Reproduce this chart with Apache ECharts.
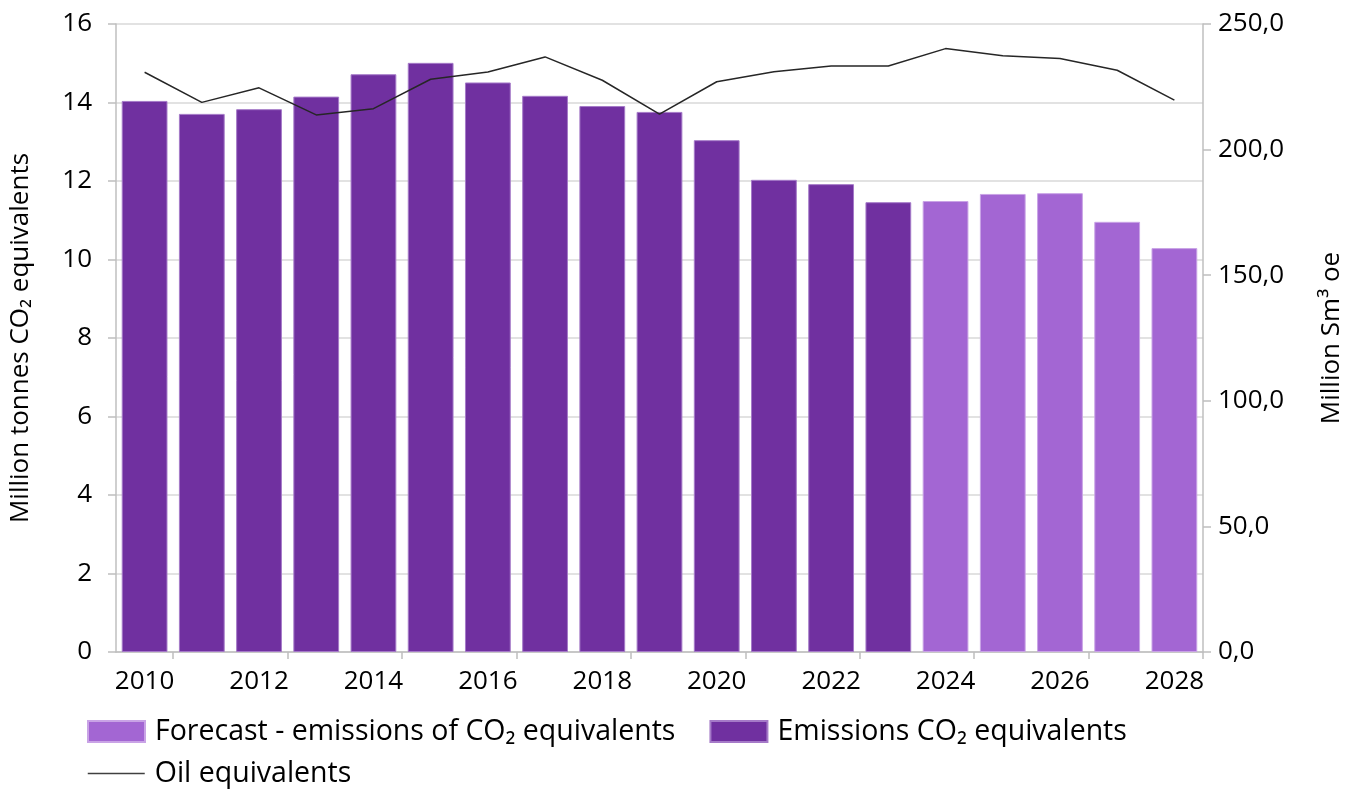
<!DOCTYPE html>
<html>
<head>
<meta charset="utf-8">
<script src="https://cdn.jsdelivr.net/npm/echarts@6/dist/echarts.min.js"></script>
<style>
  html, body { margin: 0; padding: 0; background: #ffffff; }
  #chart { width: 1358px; height: 789px; }
</style>
</head>
<body>
<div id="chart"></div>
<script>
// Years on the category axis
const years = ['2010','2011','2012','2013','2014','2015','2016','2017','2018','2019',
               '2020','2021','2022','2023','2024','2025','2026','2027','2028'];

// Historical emissions, million tonnes CO2 equivalents
const emissions = [14.04, 13.71, 13.83, 14.15, 14.72, 15.01, 14.51, 14.17, 13.91, 13.76,
                   13.04, 12.03, 11.92, 11.46, '-', '-', '-', '-', '-'];

// Forecast emissions, million tonnes CO2 equivalents
const forecast = ['-', '-', '-', '-', '-', '-', '-', '-', '-', '-',
                  '-', '-', '-', '-', 11.49, 11.67, 11.69, 10.96, 10.29];

// Production, million Sm3 oil equivalents (right axis)
const oilEquivalents = [230.8, 218.8, 224.6, 213.8, 216.3, 228.0, 230.9, 236.9, 227.6, 214.1,
                        227.0, 231.0, 233.3, 233.3, 240.2, 237.4, 236.3, 231.6, 219.7];

const NAME_FORECAST = 'Forecast - emissions of CO\u2082 equivalents';
const NAME_EMISSIONS = 'Emissions CO\u2082 equivalents';
const NAME_OIL = 'Oil equivalents';

const FONT = "'Open Sans', 'Noto Sans', sans-serif";
const TXT = '#000000';
const AXIS_FS = 26;
const LEGEND_FS = 28.5;

const chart = echarts.init(document.getElementById('chart'), null, { renderer: 'canvas' });

chart.setOption({
  animation: false,
  backgroundColor: '#ffffff',
  textStyle: { fontFamily: FONT },
  grid: { left: 116, right: 155, top: 24, bottom: 137, containLabel: false },
  legend: [
    {
      data: [
        { name: NAME_FORECAST, icon: 'rect' },
        { name: NAME_EMISSIONS, icon: 'rect' }
      ],
      left: 87, top: 717, padding: 0,
      itemWidth: 57, itemHeight: 21, itemGap: 34,
      textStyle: { fontSize: LEGEND_FS, color: TXT, fontFamily: FONT, padding: [0, 0, 0, 5] }
    },
    {
      data: [
        { name: NAME_OIL, itemStyle: { color: 'rgba(0,0,0,0)', borderWidth: 0, opacity: 0 } }
      ],
      left: 87, top: 759, padding: 0,
      itemWidth: 57, itemHeight: 21,
      lineStyle: { color: '#404040', width: 1.5 },
      textStyle: { fontSize: LEGEND_FS, color: TXT, fontFamily: FONT, padding: [0, 0, 0, 5] }
    }
  ],
  xAxis: {
    type: 'category',
    data: years,
    boundaryGap: true,
    axisLine: { lineStyle: { color: '#bfbfbf', width: 1.5 } },
    axisTick: {
      show: true, length: 7,
      interval: (i) => i % 2 === 1,
      lineStyle: { color: '#bfbfbf', width: 1.5 }
    },
    axisLabel: {
      interval: (i) => i % 2 === 0,
      fontSize: AXIS_FS, color: TXT, margin: 17, fontFamily: FONT
    }
  },
  yAxis: [
    {
      type: 'value', min: 0, max: 16, interval: 2,
      name: 'Million tonnes CO\u2082 equivalents',
      nameLocation: 'middle', nameGap: 82, nameRotate: 90,
      nameTextStyle: { fontSize: AXIS_FS, color: TXT, fontFamily: FONT },
      axisLine: { show: true, lineStyle: { color: '#bfbfbf', width: 1.5 } },
      axisTick: { show: true, length: 8, lineStyle: { color: '#bfbfbf', width: 1.5 } },
      axisLabel: { fontSize: AXIS_FS, color: TXT, margin: 24, fontFamily: FONT },
      splitLine: { show: true, lineStyle: { color: '#d9d9d9', width: 1.5 } }
    },
    {
      type: 'value', min: 0, max: 250, interval: 50,
      name: 'Million Sm\u00B3 oe',
      nameLocation: 'middle', nameGap: 116, nameRotate: 90,
      nameTextStyle: { fontSize: AXIS_FS, color: TXT, fontFamily: FONT },
      position: 'right',
      axisLine: { show: true, lineStyle: { color: '#bfbfbf', width: 1.5 } },
      axisTick: { show: true, length: 8, lineStyle: { color: '#bfbfbf', width: 1.5 } },
      axisLabel: {
        fontSize: AXIS_FS, color: TXT, margin: 15, fontFamily: FONT,
        formatter: (v) => v.toFixed(1).replace('.', ',')
      },
      splitLine: { show: false }
    }
  ],
  series: [
    {
      name: NAME_FORECAST,
      type: 'bar',
      data: forecast,
      barCategoryGap: '20%',
      barGap: '-100%',
      itemStyle: { color: '#a366d3', borderColor: '#c9a3e6', borderWidth: 1 }
    },
    {
      name: NAME_EMISSIONS,
      type: 'bar',
      data: emissions,
      barCategoryGap: '20%',
      barGap: '-100%',
      itemStyle: { color: '#7030a0', borderColor: '#a57ac8', borderWidth: 1 }
    },
    {
      name: NAME_OIL,
      type: 'line',
      yAxisIndex: 1,
      data: oilEquivalents,
      symbol: 'none',
      lineStyle: { color: '#262626', width: 1.5 },
      itemStyle: { color: '#262626' },
      z: 5
    }
  ]
});
</script>
</body>
</html>
